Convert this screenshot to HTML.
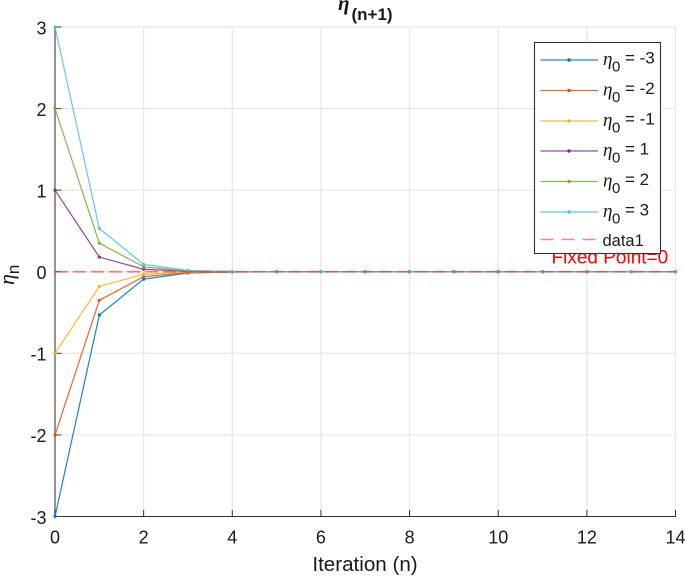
<!DOCTYPE html>
<html>
<head>
<meta charset="utf-8">
<style>
html,body{margin:0;padding:0;background:#fff;}
svg{display:block;font-family:"Liberation Sans",sans-serif;}
</style>
</head>
<body>
<svg id="chart" xmlns="http://www.w3.org/2000/svg" width="685" height="576" viewBox="0 0 685 576"></svg>
<script>
const iterations = [0,1,2,3,4,5,6,7,8,9,10,11,12,13,14];
const seriesM3 = [-3,-0.53,-0.09,-0.016,-0.003,0,0,0,0,0,0,0,0,0,0];
const seriesM2 = [-2,-0.35,-0.06,-0.01,-0.002,0,0,0,0,0,0,0,0,0,0];
const seriesM1 = [-1,-0.18,-0.03,-0.005,-0.001,0,0,0,0,0,0,0,0,0,0];
const seriesP1 = [1,0.18,0.03,0.005,0.001,0,0,0,0,0,0,0,0,0,0];
const seriesP2 = [2,0.35,0.06,0.01,0.002,0,0,0,0,0,0,0,0,0,0];
const seriesP3 = [3,0.53,0.09,0.016,0.003,0,0,0,0,0,0,0,0,0,0];
const seriesNames = ['-3','-2','-1','1','2','3'];
const xTicks = [0,2,4,6,8,10,12,14];
const yTicks = [-3,-2,-1,0,1,2,3];
const fixedPoint = 0;

const NS = 'http://www.w3.org/2000/svg';
const svg = document.getElementById('chart');
const L = 55, R = 675.5, T = 27, B = 516.5;
const sx = v => L + (v - 0) / (14 - 0) * (R - L);
const sy = v => B - (v + 3) / 6 * (B - T);
function mk(tag, attrs, parent, text) {
  const e = document.createElementNS(NS, tag);
  for (const k in attrs) e.setAttribute(k, attrs[k]);
  if (text !== undefined) e.textContent = text;
  (parent || svg).appendChild(e);
  return e;
}

// gridlines
const grid = mk('g', {});


xTicks.forEach(t => {
  if (t > 0) {
    const g = mk('line', {x1: sx(t), x2: sx(t), y1: T, y2: B, stroke: '#e6e6e6', 'stroke-width': 1.2}, grid);
    
    
  }
});
yTicks.forEach(t => {
  if (t > -3) {
    const g = mk('line', {x1: L, x2: R, y1: sy(t), y2: sy(t), stroke: '#e6e6e6', 'stroke-width': 1.2}, grid);
    
    
  }
});

// axes
const xAxis = mk('line', {x1: L, x2: R + 0.5, y1: B, y2: B, stroke: '#333', 'stroke-width': 1.1});


const yAxis = mk('line', {x1: L, x2: L, y1: T, y2: B, stroke: '#707070', 'stroke-width': 1.5});



xTicks.forEach(t => {
  const tk = mk('line', {x1: sx(t), x2: sx(t), y1: B, y2: B - 6.5, stroke: '#333', 'stroke-width': 1});
  
  
  const lb = mk('text', {x: sx(t), y: 543.3, 'text-anchor': 'middle', 'font-size': 18, fill: '#1a1a1a'}, svg, String(t));
  
  
});
yTicks.forEach(t => {
  const tk = mk('line', {x1: L, x2: L + 6.5, y1: sy(t), y2: sy(t), stroke: '#444', 'stroke-width': 1});
  
  
  const lb = mk('text', {x: 46.5, y: sy(t) + 7.3, 'text-anchor': 'end', 'font-size': 18, fill: '#1a1a1a'}, svg, String(t));
  
  
});

// series
const seriesData = [seriesM3, seriesM2, seriesM1, seriesP1, seriesP2, seriesP3];
const colors = ['#0072BD', '#D95319', '#EDB120', '#7E2F8E', '#77AC30', '#4DBEEE'];
seriesData.forEach((vals, i) => {
  const g = mk('g', {});
  
  
  mk('polyline', {
    points: vals.map((v, j) => sx(iterations[j]) + ',' + sy(v)).join(' '),
    fill: 'none', stroke: colors[i], 'stroke-width': 1.25, 'stroke-linejoin': 'round', opacity: 0.85
  }, g);
  vals.forEach((v, j) => {
    mk('circle', {cx: sx(iterations[j]), cy: sy(v), r: 1.7, fill: colors[i], opacity: 0.85}, g);
  });
});

// fixed point line
const fp = mk('line', {x1: L, x2: R, y1: sy(fixedPoint), y2: sy(fixedPoint), stroke: '#ff3030', 'stroke-width': 1.8, 'stroke-dasharray': '13 5', opacity: 0.6});



const fpLabel = mk('text', {x: 551.5, y: 263.5, 'font-size': 19, fill: '#ff0000'}, svg, 'Fixed Point=0');



// legend
const lg = mk('g', {});


mk('rect', {x: 534.5, y: 42.5, width: 126, height: 211, fill: '#fff', stroke: '#333', 'stroke-width': 1.1}, lg);
const rowY = [60, 90.5, 121, 151, 181.5, 212, 239.5];
seriesNames.forEach((n, i) => {
  const e = mk('g', {}, lg);
  
  
  mk('line', {x1: 540.5, x2: 598, y1: rowY[i], y2: rowY[i], stroke: colors[i], 'stroke-width': 1.3, opacity: 0.85}, e);
  mk('circle', {cx: 569, cy: rowY[i], r: 1.7, fill: colors[i]}, e);
  const tx = mk('text', {'font-size': 17, fill: '#1a1a1a'}, e);
  mk('tspan', {x: 603, y: rowY[i] + 5, 'font-family': '"Liberation Serif",serif', 'font-style': 'italic', 'font-size': 19}, tx, 'η');
  mk('tspan', {x: 612, y: rowY[i] + 11.5, 'font-size': 15}, tx, '0');
  mk('tspan', {x: 625, y: rowY[i] + 3.5, 'font-size': 17}, tx, '= ' + n);
});
const dataEntry = mk('g', {}, lg);


mk('line', {x1: 540.5, x2: 598, y1: rowY[6], y2: rowY[6], stroke: '#ff3030', 'stroke-width': 1.4, 'stroke-dasharray': '13 8', opacity: 0.6}, dataEntry);
mk('text', {x: 602.5, y: rowY[6] + 6.5, 'font-size': 16.5, fill: '#1a1a1a'}, dataEntry, 'data1');

// titles
const xT = mk('text', {x: 365, y: 571, 'text-anchor': 'middle', 'font-size': 20.6, fill: '#1a1a1a'}, svg, 'Iteration (n)');



const yT = mk('text', {transform: 'translate(14,285) rotate(-90)', 'font-size': 22, fill: '#1a1a1a'});


mk('tspan', {'font-family': '"Liberation Serif",serif', 'font-style': 'italic'}, yT, 'η');
mk('tspan', {dy: 5, 'font-size': 17}, yT, 'n');

const title = mk('text', {'font-weight': 'bold', fill: '#1a1a1a'});


mk('tspan', {x: 338, y: 10, 'font-family': '"Liberation Serif",serif', 'font-style': 'italic', 'font-size': 21}, title, 'η');
mk('tspan', {x: 351.5, y: 20, 'font-size': 17}, title, '(n+1)');
</script>
</body>
</html>
